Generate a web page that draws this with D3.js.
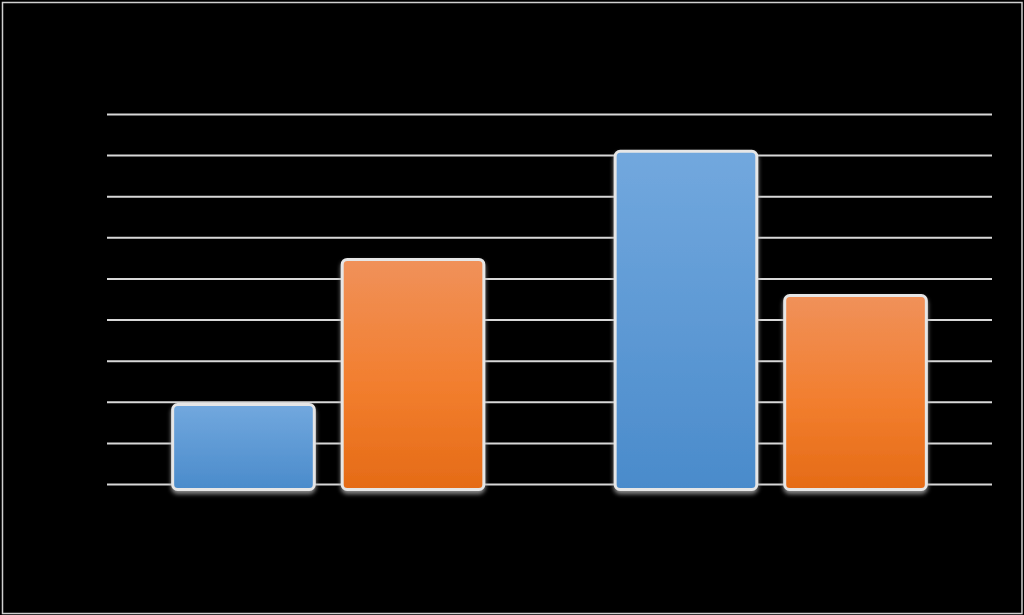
<!DOCTYPE html>
<html>
<head>
<meta charset="utf-8">
<script src="https://cdn.jsdelivr.net/npm/d3@7"></script>
<style>
  html, body { margin: 0; padding: 0; background: #000; }
  svg { display: block; }
</style>
</head>
<body>
<div id="chart"></div>
<script>
// Chart data (labels in the original are black on black, so none are visible)
const categories = ["Category 1", "Category 2"];
const seriesNames = ["Series 1", "Series 2"];
const series1 = [19.7, 81.3];
const series2 = [55.0, 46.2];
const yTicks = [0, 10, 20, 30, 40, 50, 60, 70, 80, 90];

const width = 1024;
const height = 615;
const margin = { top: 114, right: 32, bottom: 131, left: 107 };
const innerW = width - margin.left - margin.right;
const innerH = height - margin.top - margin.bottom;

const data = categories.map((c, i) => ({
  category: c,
  values: [
    { key: seriesNames[0], value: series1[i] },
    { key: seriesNames[1], value: series2[i] }
  ]
}));

const svg = d3.select("#chart")
  .append("svg")
  .attr("width", width)
  .attr("height", height);

// Background and thin outer frame
svg.append("rect")
  .attr("width", width)
  .attr("height", height)
  .attr("fill", "#000");
svg.append("rect")
  .attr("x", 2.5).attr("y", 2.5)
  .attr("width", width - 4.5).attr("height", height - 4)
  .attr("fill", "none")
  .attr("stroke", "#d0d0d0")
  .attr("stroke-width", 1.5);

const defs = svg.append("defs");
const gradBlue = defs.append("linearGradient")
  .attr("id", "gBlue").attr("x1", 0).attr("y1", 0).attr("x2", 0).attr("y2", 1);
gradBlue.append("stop").attr("offset", "0%").attr("stop-color", "#72a8de");
gradBlue.append("stop").attr("offset", "100%").attr("stop-color", "#4a8bcb");
const gradOrange = defs.append("linearGradient")
  .attr("id", "gOrange").attr("x1", 0).attr("y1", 0).attr("x2", 0).attr("y2", 1);
gradOrange.append("stop").attr("offset", "0%").attr("stop-color", "#f0915a");
gradOrange.append("stop").attr("offset", "55%").attr("stop-color", "#f27e2e");
gradOrange.append("stop").attr("offset", "100%").attr("stop-color", "#e56b16");

const shadow = defs.append("filter")
  .attr("id", "shadow").attr("x", "-10%").attr("y", "-10%")
  .attr("width", "120%").attr("height", "130%");
shadow.append("feDropShadow")
  .attr("dx", 0).attr("dy", 3).attr("stdDeviation", 2)
  .attr("flood-color", "#9a9a9a").attr("flood-opacity", 0.9);

const g = svg.append("g")
  .attr("transform", `translate(${margin.left},${margin.top})`);

// Scales
const x0 = d3.scaleBand()
  .domain(categories)
  .range([0, innerW])
  .padding(0);

const x1 = d3.scaleBand()
  .domain(seriesNames)
  .range([x0.bandwidth() * 0.145, x0.bandwidth() * 0.855])
  .paddingInner(0.147);

const y = d3.scaleLinear()
  .domain([0, 90])
  .range([innerH, 0]);

const color = d3.scaleOrdinal()
  .domain(seriesNames)
  .range(["url(#gBlue)", "url(#gOrange)"]);

// Gridlines
const yAxis = d3.axisLeft(y)
  .tickValues(yTicks)
  .tickSize(-innerW)
  .tickFormat("");

const grid = g.append("g").call(yAxis);
grid.select(".domain").remove();
grid.selectAll(".tick line")
  .attr("stroke", "#d8d8d8")
  .attr("stroke-width", 2);

// Bars
const groups = g.selectAll(".group")
  .data(data)
  .enter()
  .append("g")
  .attr("class", "group")
  .attr("transform", d => `translate(${x0(d.category)},0)`);

groups.selectAll("rect")
  .data(d => d.values)
  .enter()
  .append("rect")
  .attr("x", d => x1(d.key) + 1.5)
  .attr("y", d => y(d.value) + 1.5)
  .attr("width", x1.bandwidth() - 3)
  .attr("height", d => innerH - y(d.value) + 4)
  .attr("rx", 5)
  .attr("fill", d => color(d.key))
  .attr("stroke", "#e6e6e6")
  .attr("stroke-width", 3)
  .attr("filter", "url(#shadow)");
</script>
</body>
</html>
